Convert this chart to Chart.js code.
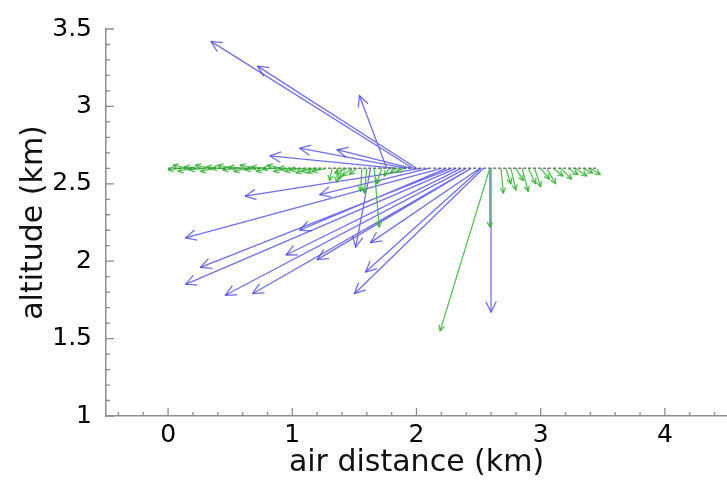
<!DOCTYPE html>
<html><head><meta charset="utf-8">
<script src="https://cdn.jsdelivr.net/npm/chart.js@4"></script>
<style>html,body{margin:0;padding:0;background:#fff}#wrap{width:727px;height:483px;position:relative}</style>
</head><body><div id="wrap"><canvas id="c"></canvas></div>
<script>
// ---- axis ticks ----
const xTickValues = [0, 1, 2, 3, 4];
const yTickValues = [1, 1.5, 2, 2.5, 3, 3.5];
const xMinorTicks = [-0.4,-0.2,0.2,0.4,0.6,0.8,1.2,1.4,1.6,1.8,2.2,2.4,2.6,2.8,3.2,3.4,3.6,3.8,4.2,4.4];
const yMinorTicks = [1.1,1.2,1.3,1.4,1.6,1.7,1.8,1.9,2.1,2.2,2.3,2.4,2.6,2.7,2.8,2.9,3.1,3.2,3.3,3.4];

// ---- flight track ----
const trackX = [0, 3.45];
const trackY = [2.6, 2.6];

// ---- blue vectors (tail -> head) ----
const blueTailX = [1.97, 2.00, 1.76, 1.84, 1.92, 1.96, 2.04, 2.10, 2.20, 2.28, 2.32, 2.40, 2.44, 2.24, 2.36, 2.44, 1.63, 2.51, 2.52, 2.54, 2.60];
const blueTailY = [2.60, 2.60, 2.60, 2.60, 2.60, 2.60, 2.60, 2.60, 2.60, 2.60, 2.60, 2.60, 2.60, 2.60, 2.60, 2.60, 2.60, 2.60, 2.60, 2.60, 2.60];
const blueHeadX = [0.345, 0.72, 1.54, 0.82, 1.06, 1.36, 0.62, 1.22, 0.14, 0.26, 0.14, 0.46, 0.68, 1.06, 0.95, 1.20, 1.51, 1.63, 1.59, 1.50, 2.60];
const blueHeadY = [3.42, 3.26, 3.07, 2.68, 2.73, 2.72, 2.42, 2.43, 2.15, 1.96, 1.85, 1.78, 1.79, 2.20, 2.04, 2.01, 2.09, 2.12, 1.93, 1.79, 1.67];

// ---- green vectors (tail -> head) ----
const greenTailX = [0.10,0.15,0.19,0.24,0.28,0.33,0.37,0.42,0.46,0.51,0.55,0.60,0.64,0.69,0.73,0.78,0.82,0.87,0.91,0.96,
                    1.00,1.05,1.09,1.14,1.18,1.23,1.27,1.32,1.36,1.40,1.44,1.48,1.52,1.56,1.60,1.66,1.72,1.78,1.84,1.90,
                    2.68,2.72,2.76,2.80,2.85,2.90,2.95,3.00,3.05,3.10,3.16,3.22,3.28,3.34,3.40, 2.59, 2.59];
const greenTailY = [2.60,2.60,2.60,2.60,2.60,2.60,2.60,2.60,2.60,2.60,2.60,2.60,2.60,2.60,2.60,2.60,2.60,2.60,2.60,2.60,
                    2.60,2.60,2.60,2.60,2.60,2.60,2.60,2.60,2.60,2.60,2.60,2.60,2.60,2.60,2.60,2.60,2.60,2.60,2.60,2.60,
                    2.60,2.60,2.60,2.60,2.60,2.60,2.60,2.60,2.60,2.60,2.60,2.60,2.60,2.60,2.60, 2.60, 2.60];
const greenHeadX = [0.00,0.04,0.08,0.13,0.17,0.22,0.26,0.31,0.35,0.40,0.44,0.49,0.53,0.58,0.62,0.67,0.71,0.76,0.80,0.85,
                    0.89,0.94,0.98,1.03,1.07,1.12,1.16,1.30,1.36,1.38,1.34,1.40,1.46,1.55,1.58,1.70,1.68,1.74,1.79,1.84,
                    2.70,2.76,2.80,2.86,2.90,2.96,3.00,3.07,3.12,3.18,3.25,3.30,3.37,3.42,3.48, 2.19, 2.59];
const greenHeadY = [2.59,2.62,2.58,2.61,2.59,2.62,2.58,2.61,2.60,2.62,2.59,2.61,2.58,2.62,2.59,2.61,2.58,2.60,2.62,2.58,
                    2.60,2.58,2.59,2.57,2.58,2.57,2.58,2.52,2.51,2.53,2.57,2.55,2.56,2.45,2.44,2.22,2.50,2.55,2.57,2.58,
                    2.44,2.50,2.46,2.52,2.45,2.50,2.48,2.53,2.50,2.55,2.53,2.56,2.55,2.57,2.56, 1.55, 2.22];

function arrowPoints(tx, ty, hx, hy) {
  const out = [];
  for (let i = 0; i < tx.length; i++) {
    out.push({x: tx[i], y: ty[i]}, {x: hx[i], y: hy[i]}, {x: null, y: null});
  }
  return out;
}

const FONT = "'DejaVu Sans', sans-serif";

const arrowHeads = {
  id: 'arrowHeads',
  afterDatasetsDraw(chart) {
    const ctx = chart.ctx;
    chart.data.datasets.forEach((ds, di) => {
      if (!ds.arrowSize) return;
      const pts = chart.getDatasetMeta(di).data;
      ctx.save();
      ctx.strokeStyle = ds.borderColor;
      ctx.lineWidth = ds.borderWidth;
      ctx.lineJoin = 'round';
      for (let i = 0; i + 1 < pts.length; i += 3) {
        const a = pts[i], b = pts[i + 1];
        const ang = Math.atan2(b.y - a.y, b.x - a.x);
        const L = ds.arrowSize, w = 0.45;
        ctx.beginPath();
        ctx.moveTo(b.x - L * Math.cos(ang - w), b.y - L * Math.sin(ang - w));
        ctx.lineTo(b.x, b.y);
        ctx.lineTo(b.x - L * Math.cos(ang + w), b.y - L * Math.sin(ang + w));
        ctx.stroke();
      }
      ctx.restore();
    });
  }
};

const innerTicks = {
  id: 'innerTicks',
  afterDraw(chart) {
    const ctx = chart.ctx, xs = chart.scales.x, ys = chart.scales.y;
    const area = chart.chartArea;
    ctx.save();
    ctx.strokeStyle = '#8c8c8c';
    ctx.lineWidth = 1.3;
    ctx.beginPath();
    xTickValues.forEach(v => { const p = xs.getPixelForValue(v); ctx.moveTo(p, area.bottom); ctx.lineTo(p, area.bottom - 8); });
    xMinorTicks.forEach(v => { const p = xs.getPixelForValue(v); ctx.moveTo(p, area.bottom); ctx.lineTo(p, area.bottom - 4); });
    yTickValues.forEach(v => { const p = ys.getPixelForValue(v); ctx.moveTo(area.left, p); ctx.lineTo(area.left + 8, p); });
    yMinorTicks.forEach(v => { const p = ys.getPixelForValue(v); ctx.moveTo(area.left, p); ctx.lineTo(area.left + 4, p); });
    ctx.stroke();
    ctx.restore();
  }
};

new Chart(document.getElementById('c'), {
  type: 'scatter',
  data: {
    datasets: [
      {
        data: trackX.map((x, i) => ({x, y: trackY[i]})),
        showLine: true, borderColor: '#7a7a7a', borderWidth: 1.6, borderDash: [3, 2],
        pointRadius: 0, order: 3
      },
      {
        data: arrowPoints(greenTailX, greenTailY, greenHeadX, greenHeadY),
        showLine: true, spanGaps: false, borderColor: 'rgba(40,175,40,0.8)', borderWidth: 1.3,
        pointRadius: 0, arrowSize: 6
      },
      {
        data: arrowPoints(blueTailX, blueTailY, blueHeadX, blueHeadY),
        showLine: true, spanGaps: false, borderColor: 'rgba(70,70,235,0.78)', borderWidth: 1.3,
        pointRadius: 0, arrowSize: 12
      }
    ]
  },
  options: {
    responsive: true,
    maintainAspectRatio: false,
    animation: false,
    events: [],
    layout: { padding: { top: 24, right: 0, left: 0, bottom: 0 } },
    plugins: { legend: { display: false }, tooltip: { enabled: false } },
    scales: {
      x: {
        type: 'linear', min: -0.5, max: 4.5,
        afterBuildTicks: s => { s.ticks = xTickValues.map(v => ({value: v})); },
        afterFit: s => { s.height = 67; },
        grid: { display: false, drawTicks: false },
        border: { display: true, color: '#8c8c8c', width: 1.5 },
        ticks: { color: '#000', font: { family: FONT, size: 25 }, padding: 4, maxRotation: 0, autoSkip: false,
                 callback: v => String(v) },
        title: { display: true, text: 'air distance (km)', color: '#111', font: { family: FONT, size: 30 }, padding: { top: 0, bottom: 2 } }
      },
      y: {
        type: 'linear', min: 1, max: 3.5,
        afterBuildTicks: s => { s.ticks = yTickValues.map(v => ({value: v})); },
        afterFit: s => { s.width = 106; },
        grid: { display: false, drawTicks: false },
        border: { display: true, color: '#8c8c8c', width: 1.5 },
        ticks: { color: '#000', font: { family: FONT, size: 25 }, padding: 14, autoSkip: false,
                 callback: v => String(v) },
        title: { display: true, text: 'altitude (km)', color: '#111', font: { family: FONT, size: 30 }, padding: { top: 16, bottom: 0 } }
      }
    }
  },
  plugins: [arrowHeads, innerTicks]
});
</script>
</body></html>
